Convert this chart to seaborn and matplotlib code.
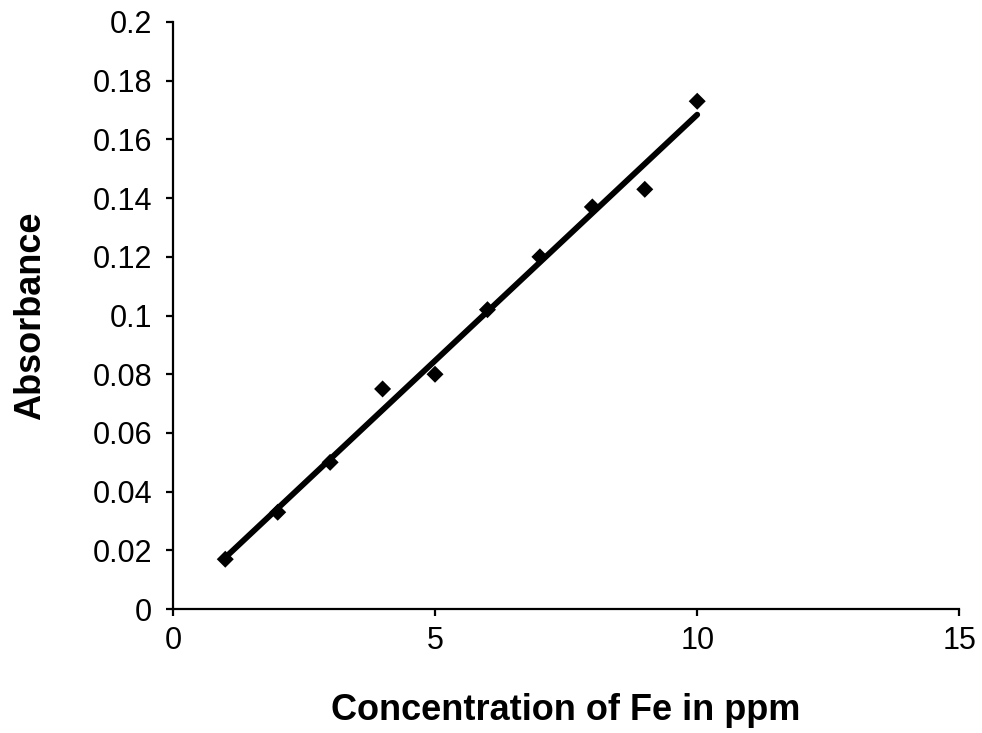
import numpy as np
import pandas as pd
import seaborn as sns
import matplotlib.pyplot as plt
from matplotlib.ticker import FuncFormatter

# Data
concentration = [1, 2, 3, 4, 5, 6, 7, 8, 9, 10]
absorbance = [0.017, 0.033, 0.050, 0.075, 0.080, 0.102, 0.120, 0.137, 0.143, 0.173]
x_ticks = [0, 5, 10, 15]
y_ticks = [0, 0.02, 0.04, 0.06, 0.08, 0.1, 0.12, 0.14, 0.16, 0.18, 0.2]

df = pd.DataFrame({'Concentration': concentration, 'Absorbance': absorbance})

sns.set_theme(style="white")
plt.rcParams['font.family'] = ['Liberation Sans', 'DejaVu Sans']

fig = plt.figure(figsize=(9.82, 7.33), dpi=100)
ax = fig.add_axes([0.176, 0.169, 0.801, 0.801])

# linear trend line over the data range
sns.regplot(x='Concentration', y='Absorbance', data=df, ax=ax,
            scatter=False, ci=None, truncate=True,
            line_kws={'color': 'black', 'linewidth': 4.2})
sns.scatterplot(x='Concentration', y='Absorbance', data=df, ax=ax,
                marker='D', s=75, color='black', edgecolor='none', zorder=3)

ax.set_xlim(0, 15)
ax.set_ylim(0, 0.2)
ax.set_xticks(x_ticks)
ax.set_yticks(y_ticks)
ax.yaxis.set_major_formatter(FuncFormatter(lambda v, p: f'{v:g}'))

for side in ['top', 'right']:
    ax.spines[side].set_visible(False)
for side in ['left', 'bottom']:
    ax.spines[side].set_color('black')
    ax.spines[side].set_linewidth(1.6)

ax.tick_params(axis='both', which='major', direction='out', length=5, width=1.6,
               color='black', labelsize=22, labelcolor='black',
               bottom=True, left=True)
ax.tick_params(axis='y', pad=10)
ax.tick_params(axis='x', pad=7)

ax.set_xlabel('Concentration of Fe in ppm', fontsize=26, fontweight='bold',
              color='black', labelpad=27)
ax.set_ylabel('Absorbance', fontsize=26, fontweight='bold',
              color='black', labelpad=32)

fig.savefig('out.png', dpi=100)
